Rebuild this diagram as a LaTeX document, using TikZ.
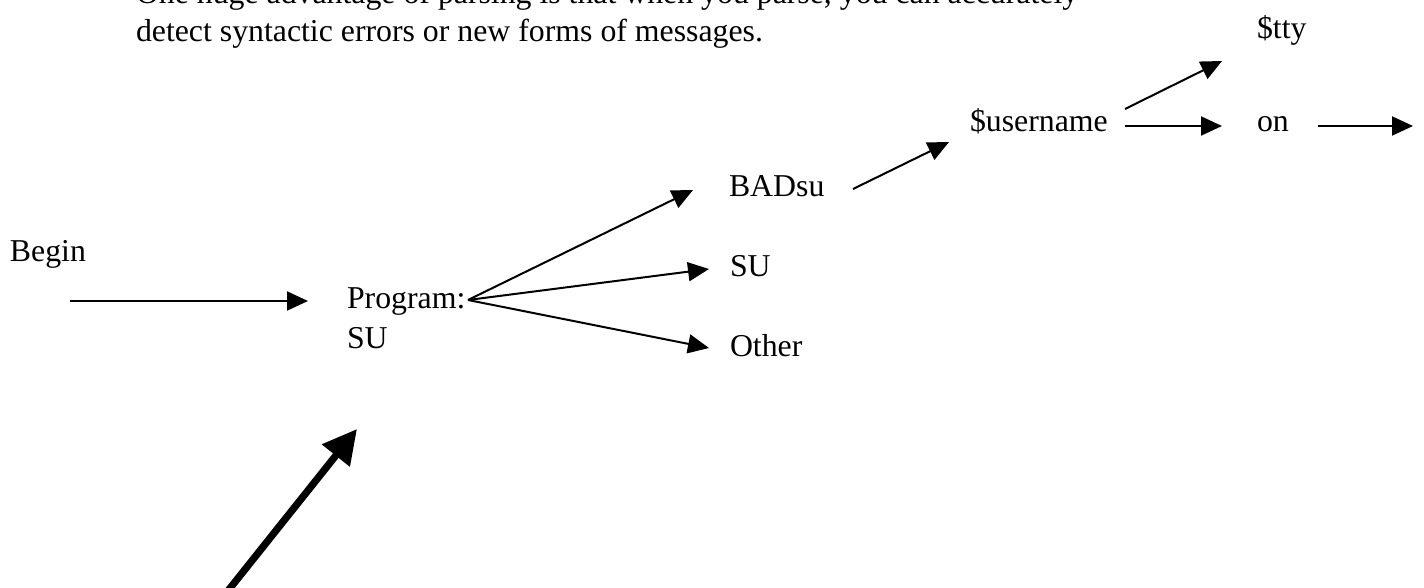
\documentclass[tikz,border=0pt]{standalone}
\usepackage{fontspec}
\setmainfont{Liberation Serif}
\usetikzlibrary{arrows.meta}
\begin{document}
\begin{tikzpicture}[x=0.5pt,y=-0.5pt,
  txt/.style={anchor=base west,inner sep=0pt,outer sep=0pt,font=\fontsize{15.9}{18}\selectfont},
  arr/.style={line width=1pt,-{Triangle[length=10.5pt,width=9.5pt]}},
  bigarr/.style={line width=3.6pt,-{Triangle[length=17pt,width=17pt]}}]
\useasboundingbox (0,0) rectangle (1424,588);
% top text
\node[txt] (l1) at (136,4) {One huge advantage of parsing is that when you parse, you can accurately};
\node[txt] (l2) at (136,42) {detect syntactic errors or new forms of messages.};
% nodes
\node[txt] (begin) at (10,262) {Begin};
\node[txt] (prog1) at (347,308) {Program:};
\node[txt] (prog2) at (347,348) {SU};
\node[txt] (badsu) at (729,197) {BADsu};
\node[txt] (su) at (730,277) {SU};
\node[txt] (other) at (730,357) {Other};
\node[txt] (user) at (970,132) {\$username};
\node[txt] (tty) at (1257,39) {\$tty};
\node[txt] (on) at (1257,132) {on};
% connector end points
\coordinate (bs) at (70,301);
\coordinate (be) at (308,301);
\coordinate (fan) at (468,300);
\coordinate (tbad) at (693,190);
\coordinate (tsu) at (709,269);
\coordinate (toth) at (709,348);
\coordinate (bads) at (853,189);
\coordinate (usert) at (949,142);
\coordinate (uts) at (1125,109);
\coordinate (utt) at (1222,61);
\coordinate (uos) at (1125,126);
\coordinate (uot) at (1222,126);
\coordinate (ons) at (1318,126);
\coordinate (one) at (1413,126);
\coordinate (ths) at (227,592);
\coordinate (tht) at (357,429);
% connectors
\draw[arr] (bs) -- (be);
\draw[arr] (fan) -- (tbad);
\draw[arr] (fan) -- (tsu);
\draw[arr] (fan) -- (toth);
\draw[arr] (bads) -- (usert);
\draw[arr] (uts) -- (utt);
\draw[arr] (uos) -- (uot);
\draw[arr] (ons) -- (one);
\draw[bigarr] (ths) -- (tht);
\end{tikzpicture}
\end{document}
